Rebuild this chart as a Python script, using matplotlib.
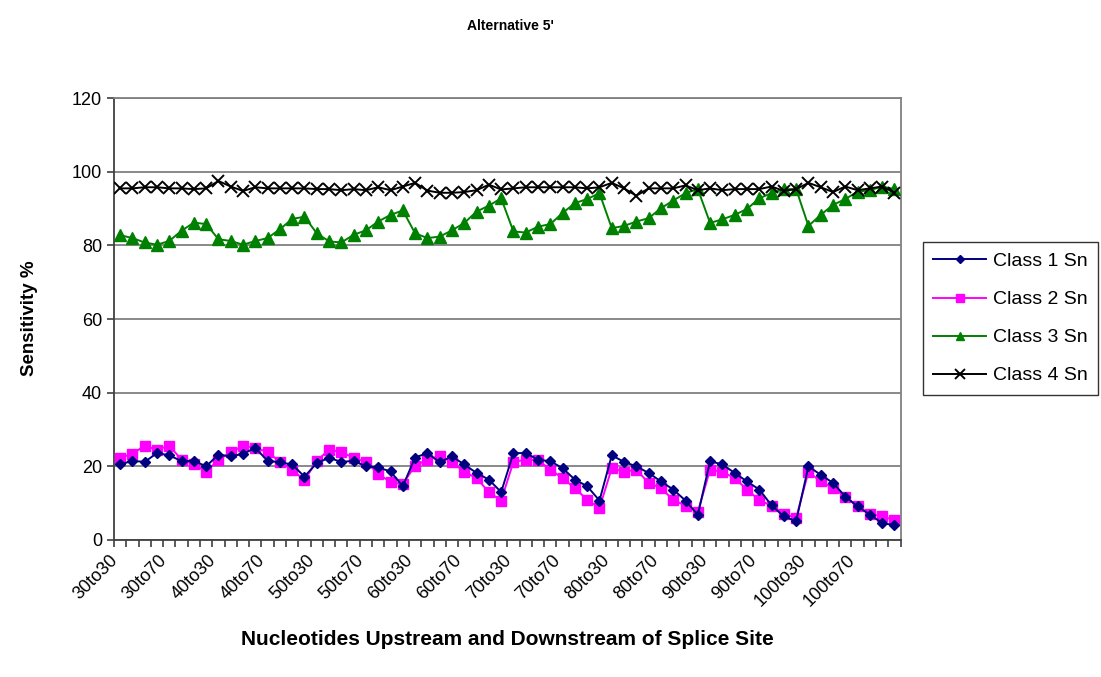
import matplotlib
matplotlib.use("Agg")
import matplotlib.pyplot as plt
from matplotlib.ticker import FixedLocator, NullFormatter
import matplotlib.transforms as mtransforms

plt.rcParams['font.family'] = ['Liberation Sans', 'DejaVu Sans']

upstream = [30, 40, 50, 60, 70, 80, 90, 100]
downstream = [30, 40, 50, 60, 70, 80, 90, 100]
categories = [f"{u}to{d}" for u in upstream for d in downstream]

class1 = [20.5, 21.5, 21.2, 23.6, 23.0, 21.4, 21.5, 20.0,
          23.2, 22.7, 23.4, 25.0, 21.5, 21.1, 20.5, 17.2,
          20.9, 22.3, 21.2, 21.5, 20.0, 19.7, 18.6, 14.6,
          22.4, 23.6, 21.1, 22.7, 20.5, 18.2, 16.4, 13.0,
          23.6, 23.6, 21.8, 21.4, 19.5, 16.4, 14.6, 10.7,
          23.0, 21.2, 20.0, 18.2, 15.9, 13.7, 10.7, 6.8,
          21.4, 20.5, 18.2, 15.9, 13.7, 9.4, 6.4, 5.1,
          20.0, 17.7, 15.5, 11.8, 9.1, 6.9, 4.6, 4.0]
class2 = [22.3, 23.4, 25.6, 24.5, 25.6, 21.8, 20.6, 18.5,
          21.8, 23.8, 25.6, 25.0, 23.9, 21.2, 19.1, 16.2,
          21.5, 24.5, 23.9, 22.3, 21.2, 18.0, 15.7, 15.2,
          20.2, 21.8, 22.9, 21.2, 18.5, 16.8, 13.0, 10.7,
          21.2, 21.8, 21.7, 19.1, 16.8, 14.1, 10.9, 8.7,
          19.5, 18.5, 19.1, 15.5, 14.1, 10.9, 9.3, 7.6,
          19.1, 18.5, 16.8, 13.7, 10.8, 9.3, 7.1, 6.0,
          18.5, 15.9, 14.1, 11.8, 9.1, 7.1, 6.4, 5.4]
class3 = [82.8, 82.0, 80.8, 80.2, 81.2, 84.0, 86.2, 85.8,
          81.7, 81.2, 80.2, 81.2, 82.0, 84.4, 87.2, 87.8,
          83.3, 81.1, 80.8, 82.9, 84.1, 86.5, 88.3, 89.5,
          83.3, 82.0, 82.4, 84.1, 86.1, 89.2, 90.8, 92.8,
          83.8, 83.5, 85.1, 85.8, 88.8, 91.5, 92.6, 94.2,
          84.7, 85.3, 86.5, 87.4, 90.1, 92.2, 94.2, 95.3,
          86.1, 87.1, 88.3, 89.9, 92.8, 94.2, 95.3, 95.3,
          85.3, 88.3, 91.0, 92.6, 94.6, 95.0, 96.0, 95.3]
class4 = [95.5, 95.5, 95.8, 95.8, 95.5, 95.5, 95.3, 95.5,
          97.5, 96.0, 94.8, 95.8, 95.5, 95.5, 95.5, 95.5,
          95.3, 95.3, 95.0, 95.3, 95.0, 95.8, 95.0, 96.0,
          97.0, 94.9, 94.3, 94.3, 94.5, 95.0, 96.5, 95.2,
          95.5, 95.8, 95.8, 95.8, 95.8, 95.8, 95.5, 95.8,
          97.0, 95.5, 93.5, 95.5, 95.5, 95.5, 96.3, 95.0,
          95.5, 95.0, 95.3, 95.3, 95.3, 96.0, 94.8, 95.3,
          97.0, 95.8, 94.5, 96.0, 95.0, 95.5, 96.0, 94.3]

series_names = ["Class 1 Sn", "Class 2 Sn", "Class 3 Sn", "Class 4 Sn"]

fig = plt.figure(figsize=(11.01, 6.77), dpi=100)
ax = fig.add_axes([0.1035, 0.2024, 0.7145, 0.6526])

x = list(range(len(categories)))
ax.plot(x, class1, color='#000080', marker='D', markersize=5.5, lw=1.4, label=series_names[0], zorder=5)
ax.plot(x, class2, color='#FF00FF', marker='s', markersize=7, lw=1.4, label=series_names[1], zorder=4)
ax.plot(x, class3, color='#008000', marker='^', markersize=8.5, lw=1.4, label=series_names[2], zorder=3)
ax.plot(x, class4, color='#000000', marker='x', markersize=9, mew=1.4, lw=1.4, label=series_names[3], zorder=3)

ax.set_xlim(-0.5, len(categories) - 0.5)
ax.set_ylim(0, 120)
ax.set_yticks(range(0, 121, 20))
ax.yaxis.grid(True, color='#808080', lw=1.3)
ax.set_axisbelow(True)

ax.set_xticks(x[::4])
ax.set_xticklabels(categories[::4], rotation=45, ha='right', va='center',
                   rotation_mode='anchor', fontsize=13)
ax.tick_params(axis='x', which='major', length=0, pad=13)
shift = mtransforms.ScaledTranslation(-5 / 100, 0, fig.dpi_scale_trans)
for lbl in ax.get_xticklabels():
    lbl.set_transform(lbl.get_transform() + shift)
ax.xaxis.set_minor_locator(FixedLocator([i - 0.5 for i in range(len(categories) + 1)]))
ax.xaxis.set_minor_formatter(NullFormatter())
ax.tick_params(axis='x', which='minor', length=5, direction='out', color='#404040', width=1.2)
ax.tick_params(axis='y', length=5, direction='out', labelsize=13, color='#404040', width=1.2)

for s in ['top', 'right']:
    ax.spines[s].set_color('#808080')
    ax.spines[s].set_linewidth(1.3)
for s in ['left', 'bottom']:
    ax.spines[s].set_color('#404040')
    ax.spines[s].set_linewidth(1.3)

fig.text(0.464, 0.962, "Alternative 5'", ha='center', va='center', fontsize=10, fontweight='bold')
fig.text(0.461, 0.055, "Nucleotides Upstream and Downstream of Splice Site", ha='center', va='center',
         fontsize=15, fontweight='bold')
fig.text(0.027, 0.53, "Sensitivity %", ha='center', va='center', rotation=90, fontsize=13.5, fontweight='bold')

leg = fig.legend(loc='center left', bbox_to_anchor=(0.838, 0.5295), frameon=True, fancybox=False,
                 edgecolor='#000000', fontsize=14, handlelength=2.7, labelspacing=1.05,
                 borderpad=0.55, handletextpad=0.35, borderaxespad=0, markerscale=0.75)
leg.get_frame().set_linewidth(1.0)

fig.savefig("out.png", dpi=100)
